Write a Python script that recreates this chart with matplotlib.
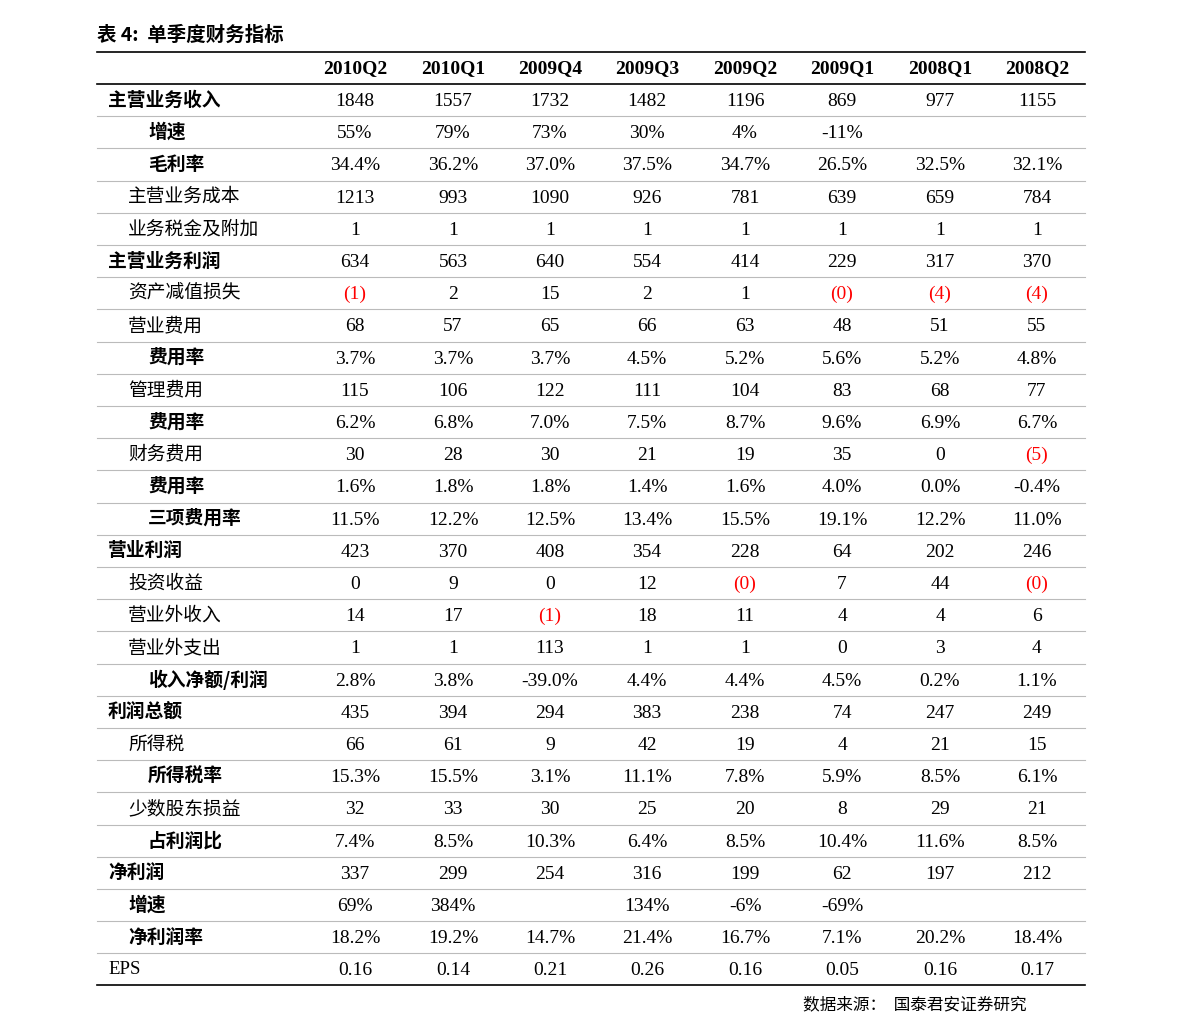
import matplotlib.pyplot as plt

plt.rcParams['font.family'] = ['Noto Sans CJK SC', 'DejaVu Sans']

title = '表 4:  单季度财务指标'
source = '数据来源：  国泰君安证券研究'
quarters = ['2010Q2', '2010Q1', '2009Q4', '2009Q3', '2009Q2', '2009Q1', '2008Q1', '2008Q2']

row_labels = ['主营业务收入', '增速', '毛利率', '主营业务成本', '业务税金及附加', '主营业务利润',
              '资产减值损失', '营业费用', '费用率', '管理费用', '费用率', '财务费用', '费用率',
              '三项费用率', '营业利润', '投资收益', '营业外收入', '营业外支出', '收入净额/利润',
              '利润总额', '所得税', '所得税率', '少数股东损益', '占利润比', '净利润', '增速',
              '净利润率', 'EPS']
# indent level: 0 = left, 1 = one step, 2 = two steps
row_level = [0, 2, 2, 1, 1, 0, 1, 1, 2, 1, 2, 1, 2, 2, 0, 1, 1, 1, 2, 0, 1, 2, 1, 2, 0, 1, 1, 0]
row_bold = [1, 1, 1, 0, 0, 1, 0, 0, 1, 0, 1, 0, 1, 1, 1, 0, 0, 0, 1, 1, 0, 1, 0, 1, 1, 1, 1, 0]

values = [
    ['1848', '1557', '1732', '1482', '1196', '869', '977', '1155'],
    ['55%', '79%', '73%', '30%', '4%', '-11%', '', ''],
    ['34.4%', '36.2%', '37.0%', '37.5%', '34.7%', '26.5%', '32.5%', '32.1%'],
    ['1213', '993', '1090', '926', '781', '639', '659', '784'],
    ['1', '1', '1', '1', '1', '1', '1', '1'],
    ['634', '563', '640', '554', '414', '229', '317', '370'],
    ['(1)', '2', '15', '2', '1', '(0)', '(4)', '(4)'],
    ['68', '57', '65', '66', '63', '48', '51', '55'],
    ['3.7%', '3.7%', '3.7%', '4.5%', '5.2%', '5.6%', '5.2%', '4.8%'],
    ['115', '106', '122', '111', '104', '83', '68', '77'],
    ['6.2%', '6.8%', '7.0%', '7.5%', '8.7%', '9.6%', '6.9%', '6.7%'],
    ['30', '28', '30', '21', '19', '35', '0', '(5)'],
    ['1.6%', '1.8%', '1.8%', '1.4%', '1.6%', '4.0%', '0.0%', '-0.4%'],
    ['11.5%', '12.2%', '12.5%', '13.4%', '15.5%', '19.1%', '12.2%', '11.0%'],
    ['423', '370', '408', '354', '228', '64', '202', '246'],
    ['0', '9', '0', '12', '(0)', '7', '44', '(0)'],
    ['14', '17', '(1)', '18', '11', '4', '4', '6'],
    ['1', '1', '113', '1', '1', '0', '3', '4'],
    ['2.8%', '3.8%', '-39.0%', '4.4%', '4.4%', '4.5%', '0.2%', '1.1%'],
    ['435', '394', '294', '383', '238', '74', '247', '249'],
    ['66', '61', '9', '42', '19', '4', '21', '15'],
    ['15.3%', '15.5%', '3.1%', '11.1%', '7.8%', '5.9%', '8.5%', '6.1%'],
    ['32', '33', '30', '25', '20', '8', '29', '21'],
    ['7.4%', '8.5%', '10.3%', '6.4%', '8.5%', '10.4%', '11.6%', '8.5%'],
    ['337', '299', '254', '316', '199', '62', '197', '212'],
    ['69%', '384%', '', '134%', '-6%', '-69%', '', ''],
    ['18.2%', '19.2%', '14.7%', '21.4%', '16.7%', '7.1%', '20.2%', '18.4%'],
    ['0.16', '0.14', '0.21', '0.26', '0.16', '0.05', '0.16', '0.17'],
]

W, H = 1191, 1034
fig = plt.figure(figsize=(W / 100, H / 100), dpi=100)
ax = fig.add_axes([0, 0, 1, 1])
ax.set_xlim(0, W)
ax.set_ylim(H, 0)
ax.axis('off')

serif = ['Liberation Serif', 'Noto Sans CJK SC']
col_x = [355, 453, 550, 647, 745, 842, 940, 1037]
x0, x1 = 97, 1085
y_first, dy = 100, 32.2
label_x = {0: 108, 1: 128, 2: 148}

ax.text(97, 35, title, fontsize=14, fontweight='bold', va='center', ha='left')
ax.plot([x0, x1], [52, 52], color='black', lw=1.2)
for x, q in zip(col_x, quarters):
    ax.text(x, 69, q, fontsize=14, fontweight='bold', ha='center', va='center', family=serif)
ax.plot([x0, x1], [84, 84], color='black', lw=1.2)

for i, lab in enumerate(row_labels):
    y = y_first + i * dy
    fam = serif if lab == 'EPS' else ['Noto Sans CJK SC', 'DejaVu Sans']
    ax.text(label_x[row_level[i]], y, lab, fontsize=13.5, va='center', ha='left',
            fontweight='bold' if row_bold[i] else 'normal', family=fam)
    for x, v in zip(col_x, values[i]):
        ax.text(x, y + 1.5, v, fontsize=14, ha='center', va='center', family=serif,
                color='red' if v.startswith('(') else 'black')
    if i < len(row_labels) - 1:
        ax.plot([x0, x1], [y + dy / 2] * 2, color='#bbbbbb', lw=0.8)

ax.plot([x0, x1], [985, 985], color='black', lw=1.2)
ax.text(1027, 1005, source, fontsize=12, ha='right', va='center')

fig.savefig('out.png', dpi=100)
